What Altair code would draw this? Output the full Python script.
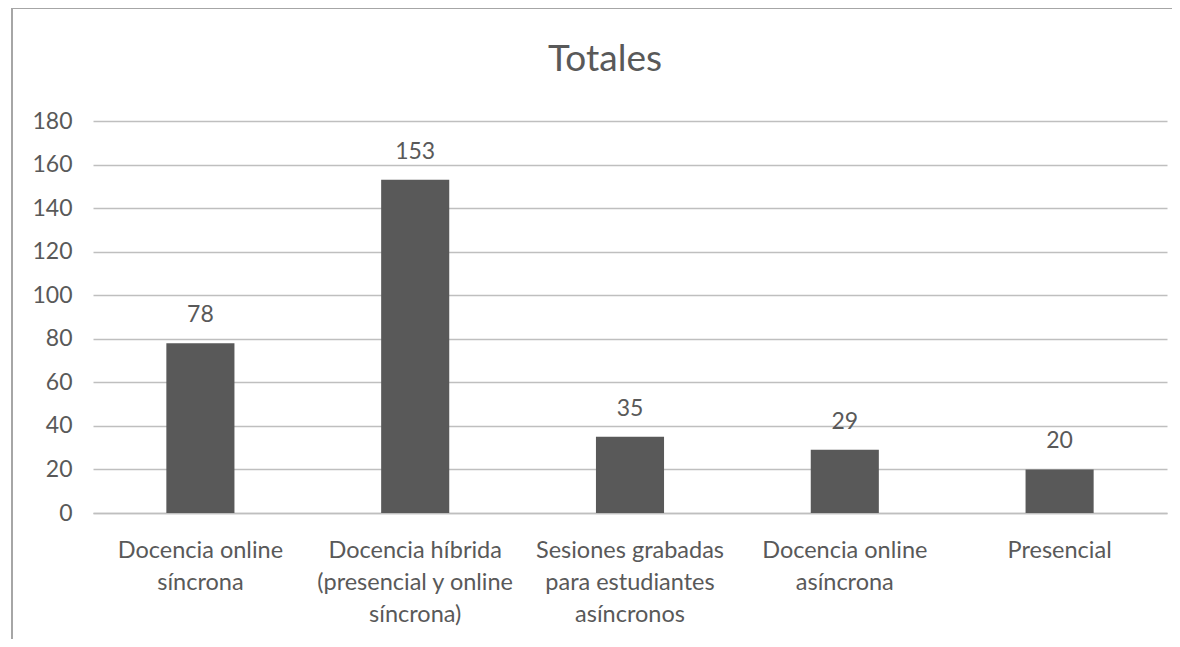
import altair as alt
import pandas as pd

categories = [
    "Docencia online\nsíncrona",
    "Docencia híbrida\n(presencial y online\nsíncrona)",
    "Sesiones grabadas\npara estudiantes\nasíncronos",
    "Docencia online\nasíncrona",
    "Presencial",
]
values = [78, 153, 35, 29, 20]

df = pd.DataFrame({"cat": categories, "val": values})

FONT = "Lato"
TXT = "#595959"
GRID = "#bfbfbf"

x = alt.X(
    "cat:N",
    sort=categories,
    title=None,
    scale=alt.Scale(paddingInner=0.683, paddingOuter=0.3415),
    axis=alt.Axis(
        labelExpr="split(datum.label, '\\n')",
        labelAngle=0,
        labelFont=FONT,
        labelFontSize=23.5,
        labelColor=TXT,
        labelLineHeight=32,
        labelPadding=25,
        labelLimit=400,
        ticks=False,
        domain=True,
        domainColor=GRID,
        domainWidth=1.5,
        labelBaseline="top",
    ),
)
y = alt.Y(
    "val:Q",
    title=None,
    scale=alt.Scale(domain=[0, 180]),
    axis=alt.Axis(
        values=list(range(0, 181, 20)),
        labelFont=FONT,
        labelFontSize=23,
        labelColor=TXT,
        labelPadding=21,
        ticks=False,
        domain=False,
        grid=True,
        gridColor=GRID,
        gridWidth=1.5,
    ),
)

bars = alt.Chart(df).mark_bar(color="#595959").encode(x=x, y=y)
labels = alt.Chart(df).mark_text(
    baseline="bottom", dy=-16, font=FONT, fontSize=23, color=TXT
).encode(x=alt.X("cat:N", sort=categories), y="val:Q", text="val:Q")

border_left = alt.Chart(df).mark_rule(color="#a6a6a6", strokeWidth=2).encode(
    x=alt.value(-81), y=alt.value(-113), y2=alt.value(700)
)
border_top = alt.Chart(df).mark_rule(color="#a6a6a6", strokeWidth=2).encode(
    x=alt.value(-81), x2=alt.value(1200), y=alt.value(-113)
)

chart = (
    alt.layer(bars, labels, border_left, border_top)
    .properties(
        width=1074,
        height=392,
        title=alt.TitleParams(
            "Totales", font=FONT, fontSize=37, fontWeight="normal", color=TXT,
            anchor="middle", offset=-72, dx=-25,
        ),
        autosize=alt.AutoSizeParams(type="none"),
        padding={"left": 85, "top": 113, "right": 5, "bottom": 126},
    )
    .configure_view(stroke=None)
)

chart.save("out.html", embed_options={"renderer": "svg", "actions": False})
